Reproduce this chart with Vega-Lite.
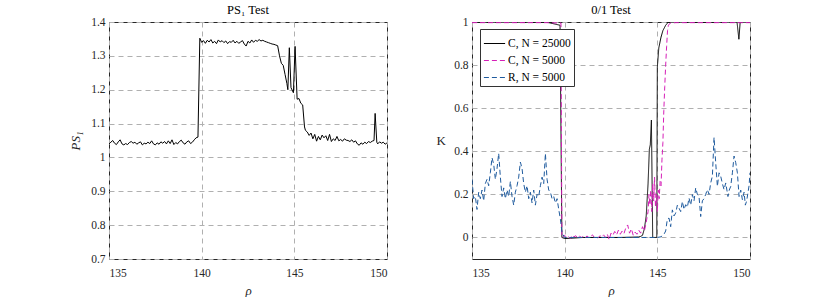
{
  "$schema": "https://vega.github.io/schema/vega-lite/v6.json",
  "background": "white",
  "padding": {"left": 69, "top": 3, "right": 5, "bottom": 0},
  "spacing": 47,
  "config": {
    "font": "Liberation Serif",
    "view": {"stroke": "#262626", "strokeWidth": 1},
    "axis": {
      "domain": false,
      "ticks": false,
      "grid": true,
      "gridColor": "#b0b0b0",
      "gridDash": [5, 4],
      "gridWidth": 1,
      "labelFont": "Liberation Serif",
      "labelFontSize": 11.5,
      "labelColor": "#262626",
      "titleFont": "Liberation Serif",
      "titleFontWeight": "normal",
      "titleColor": "#262626",
      "titleFontSize": 13
    },
    "title": {"font": "Liberation Serif", "fontSize": 12.5, "fontWeight": "normal", "color": "#000000", "offset": 0},
    "legend": {"labelFont": "Liberation Serif"}
  },
  "hconcat": [
    {
      "title": {"text": "PS₁ Test", "fontWeight": "normal", "font": "Liberation Serif", "fontSize": 12.5, "offset": 0},
      "width": 278,
      "height": 237,
      "data": {"values": [
        {"rho":135.0,"v":1.040},{"rho":135.1,"v":1.045},{"rho":135.2,"v":1.050},{"rho":135.3,"v":1.042},{"rho":135.4,"v":1.038},
        {"rho":135.5,"v":1.046},{"rho":135.6,"v":1.052},{"rho":135.7,"v":1.040},{"rho":135.8,"v":1.037},{"rho":135.9,"v":1.041},
        {"rho":136.0,"v":1.038},{"rho":136.1,"v":1.044},{"rho":136.2,"v":1.047},{"rho":136.3,"v":1.042},{"rho":136.4,"v":1.045},
        {"rho":136.5,"v":1.039},{"rho":136.6,"v":1.043},{"rho":136.7,"v":1.046},{"rho":136.8,"v":1.037},{"rho":136.9,"v":1.042},
        {"rho":137.0,"v":1.040},{"rho":137.1,"v":1.045},{"rho":137.2,"v":1.041},{"rho":137.3,"v":1.049},{"rho":137.4,"v":1.040},
        {"rho":137.5,"v":1.037},{"rho":137.6,"v":1.043},{"rho":137.7,"v":1.039},{"rho":137.8,"v":1.046},{"rho":137.9,"v":1.042},
        {"rho":138.0,"v":1.047},{"rho":138.1,"v":1.040},{"rho":138.2,"v":1.049},{"rho":138.3,"v":1.041},{"rho":138.4,"v":1.052},
        {"rho":138.5,"v":1.038},{"rho":138.6,"v":1.044},{"rho":138.7,"v":1.040},{"rho":138.8,"v":1.047},{"rho":138.9,"v":1.051},
        {"rho":139.0,"v":1.043},{"rho":139.1,"v":1.039},{"rho":139.2,"v":1.046},{"rho":139.3,"v":1.049},{"rho":139.4,"v":1.041},
        {"rho":139.5,"v":1.045},{"rho":139.6,"v":1.052},{"rho":139.7,"v":1.058},{"rho":139.8,"v":1.060},{"rho":139.9,"v":1.352},
        {"rho":140.0,"v":1.340},{"rho":140.1,"v":1.345},{"rho":140.2,"v":1.337},{"rho":140.3,"v":1.346},{"rho":140.4,"v":1.341},
        {"rho":140.5,"v":1.348},{"rho":140.6,"v":1.338},{"rho":140.7,"v":1.343},{"rho":140.8,"v":1.336},{"rho":140.9,"v":1.347},
        {"rho":141.0,"v":1.341},{"rho":141.1,"v":1.345},{"rho":141.2,"v":1.339},{"rho":141.3,"v":1.344},{"rho":141.4,"v":1.336},
        {"rho":141.5,"v":1.342},{"rho":141.6,"v":1.340},{"rho":141.7,"v":1.346},{"rho":141.8,"v":1.338},{"rho":141.9,"v":1.343},
        {"rho":142.0,"v":1.337},{"rho":142.1,"v":1.341},{"rho":142.2,"v":1.345},{"rho":142.3,"v":1.335},{"rho":142.4,"v":1.329},
        {"rho":142.5,"v":1.343},{"rho":142.6,"v":1.338},{"rho":142.7,"v":1.347},{"rho":142.8,"v":1.340},{"rho":142.9,"v":1.346},
        {"rho":143.0,"v":1.343},{"rho":143.1,"v":1.348},{"rho":143.2,"v":1.344},{"rho":143.3,"v":1.346},{"rho":143.4,"v":1.343},
        {"rho":143.5,"v":1.341},{"rho":143.6,"v":1.339},{"rho":143.7,"v":1.337},{"rho":143.8,"v":1.335},{"rho":143.9,"v":1.334},
        {"rho":144.0,"v":1.332},{"rho":144.1,"v":1.330},{"rho":144.2,"v":1.300},{"rho":144.3,"v":1.278},{"rho":144.4,"v":1.272},
        {"rho":144.5,"v":1.245},{"rho":144.6,"v":1.218},{"rho":144.65,"v":1.200},{"rho":144.73,"v":1.324},{"rho":144.82,"v":1.206},
        {"rho":144.95,"v":1.191},{"rho":145.04,"v":1.328},{"rho":145.15,"v":1.172},{"rho":145.25,"v":1.174},{"rho":145.35,"v":1.160},
        {"rho":145.45,"v":1.155},{"rho":145.55,"v":1.090},{"rho":145.6,"v":1.080},{"rho":145.7,"v":1.075},{"rho":145.8,"v":1.065},
        {"rho":145.9,"v":1.072},{"rho":146.0,"v":1.055},{"rho":146.1,"v":1.068},{"rho":146.2,"v":1.048},{"rho":146.3,"v":1.062},
        {"rho":146.4,"v":1.052},{"rho":146.5,"v":1.066},{"rho":146.6,"v":1.058},{"rho":146.7,"v":1.064},{"rho":146.8,"v":1.050},
        {"rho":146.9,"v":1.068},{"rho":147.0,"v":1.047},{"rho":147.1,"v":1.055},{"rho":147.2,"v":1.050},{"rho":147.3,"v":1.062},
        {"rho":147.4,"v":1.049},{"rho":147.5,"v":1.053},{"rho":147.6,"v":1.048},{"rho":147.7,"v":1.055},{"rho":147.8,"v":1.051},
        {"rho":147.9,"v":1.050},{"rho":148.0,"v":1.047},{"rho":148.1,"v":1.052},{"rho":148.2,"v":1.045},{"rho":148.3,"v":1.049},
        {"rho":148.4,"v":1.040},{"rho":148.5,"v":1.036},{"rho":148.6,"v":1.043},{"rho":148.7,"v":1.039},{"rho":148.8,"v":1.045},
        {"rho":148.9,"v":1.041},{"rho":149.0,"v":1.047},{"rho":149.1,"v":1.044},{"rho":149.2,"v":1.048},{"rho":149.3,"v":1.050},
        {"rho":149.36,"v":1.130},{"rho":149.45,"v":1.045},{"rho":149.5,"v":1.040},{"rho":149.6,"v":1.046},{"rho":149.7,"v":1.042},
        {"rho":149.8,"v":1.045},{"rho":149.9,"v":1.039},{"rho":150.0,"v":1.043}
      ]},
      "mark": {"type": "line", "color": "#000000", "strokeWidth": 1, "clip": true},
      "encoding": {
        "x": {"field": "rho", "type": "quantitative", "scale": {"domain": [135, 150], "nice": false, "zero": false},
              "axis": {"values": [135, 140, 145, 150], "title": "ρ", "titleFontStyle": "italic", "labelPadding": 8, "titlePadding": 6}},
        "y": {"field": "v", "type": "quantitative", "scale": {"domain": [0.7, 1.4], "nice": false, "zero": false},
              "axis": {"values": [0.7, 0.8, 0.9, 1.0, 1.1, 1.2, 1.3, 1.4], "format": ".1~f", "title": "PS₁", "titleFontStyle": "italic", "labelPadding": 4, "titlePadding": 8}}
      }
    },
    {
      "title": {"text": "0/1 Test", "fontWeight": "normal", "font": "Liberation Serif", "fontSize": 12.5, "offset": 0},
      "width": 278,
      "height": 237,
      "data": {"values": [
        {"s":"C, N = 25000","rho":135.0,"v":1.0},{"s":"C, N = 25000","rho":137.0,"v":1.0},{"s":"C, N = 25000","rho":139.0,"v":1.0},
        {"s":"C, N = 25000","rho":139.75,"v":0.985},{"s":"C, N = 25000","rho":139.85,"v":0.0},{"s":"C, N = 25000","rho":140.0,"v":-0.005},
        {"s":"C, N = 25000","rho":141.0,"v":0.0},{"s":"C, N = 25000","rho":142.0,"v":0.0},{"s":"C, N = 25000","rho":143.0,"v":0.0},
        {"s":"C, N = 25000","rho":144.0,"v":0.002},{"s":"C, N = 25000","rho":144.1,"v":0.005},{"s":"C, N = 25000","rho":144.2,"v":0.01},
        {"s":"C, N = 25000","rho":144.3,"v":0.04},{"s":"C, N = 25000","rho":144.4,"v":0.1},{"s":"C, N = 25000","rho":144.5,"v":0.25},
        {"s":"C, N = 25000","rho":144.57,"v":0.41},{"s":"C, N = 25000","rho":144.62,"v":0.43},{"s":"C, N = 25000","rho":144.68,"v":0.545},
        {"s":"C, N = 25000","rho":144.75,"v":0.0},{"s":"C, N = 25000","rho":144.97,"v":0.0},{"s":"C, N = 25000","rho":145.0,"v":0.79},
        {"s":"C, N = 25000","rho":145.08,"v":0.88},{"s":"C, N = 25000","rho":145.2,"v":0.93},{"s":"C, N = 25000","rho":145.3,"v":0.96},
        {"s":"C, N = 25000","rho":145.45,"v":0.985},{"s":"C, N = 25000","rho":145.6,"v":1.0},{"s":"C, N = 25000","rho":147.0,"v":1.0},
        {"s":"C, N = 25000","rho":149.3,"v":1.0},{"s":"C, N = 25000","rho":149.4,"v":0.92},{"s":"C, N = 25000","rho":149.47,"v":1.0},
        {"s":"C, N = 25000","rho":150.0,"v":1.0},

        {"s":"C, N = 5000","rho":135.0,"v":0.997},{"s":"C, N = 5000","rho":137.0,"v":0.997},{"s":"C, N = 5000","rho":139.0,"v":0.997},
        {"s":"C, N = 5000","rho":139.8,"v":0.995},{"s":"C, N = 5000","rho":139.85,"v":0.0},{"s":"C, N = 5000","rho":140.0,"v":0.01},
        {"s":"C, N = 5000","rho":140.1,"v":0.0},{"s":"C, N = 5000","rho":140.2,"v":0.005},{"s":"C, N = 5000","rho":140.3,"v":-0.005},
        {"s":"C, N = 5000","rho":140.4,"v":0.01},{"s":"C, N = 5000","rho":140.5,"v":0.003},{"s":"C, N = 5000","rho":140.6,"v":0.008},
        {"s":"C, N = 5000","rho":140.7,"v":-0.003},{"s":"C, N = 5000","rho":140.8,"v":0.006},{"s":"C, N = 5000","rho":140.9,"v":0.0},
        {"s":"C, N = 5000","rho":141.0,"v":0.004},{"s":"C, N = 5000","rho":141.1,"v":-0.004},{"s":"C, N = 5000","rho":141.2,"v":0.007},
        {"s":"C, N = 5000","rho":141.3,"v":0.0},{"s":"C, N = 5000","rho":141.4,"v":0.005},{"s":"C, N = 5000","rho":141.5,"v":0.012},
        {"s":"C, N = 5000","rho":141.6,"v":0.0},{"s":"C, N = 5000","rho":141.7,"v":0.004},{"s":"C, N = 5000","rho":141.8,"v":-0.003},
        {"s":"C, N = 5000","rho":141.9,"v":0.008},{"s":"C, N = 5000","rho":142.0,"v":0.003},{"s":"C, N = 5000","rho":142.1,"v":0.012},
        {"s":"C, N = 5000","rho":142.2,"v":0.0},{"s":"C, N = 5000","rho":142.3,"v":0.015},{"s":"C, N = 5000","rho":142.4,"v":-0.01},
        {"s":"C, N = 5000","rho":142.5,"v":0.02},{"s":"C, N = 5000","rho":142.6,"v":0.01},{"s":"C, N = 5000","rho":142.7,"v":0.028},
        {"s":"C, N = 5000","rho":142.8,"v":0.012},{"s":"C, N = 5000","rho":142.9,"v":0.034},{"s":"C, N = 5000","rho":143.0,"v":0.015},
        {"s":"C, N = 5000","rho":143.1,"v":0.03},{"s":"C, N = 5000","rho":143.2,"v":0.018},{"s":"C, N = 5000","rho":143.3,"v":0.045},
        {"s":"C, N = 5000","rho":143.4,"v":0.058},{"s":"C, N = 5000","rho":143.5,"v":0.02},{"s":"C, N = 5000","rho":143.6,"v":0.04},
        {"s":"C, N = 5000","rho":143.7,"v":0.01},{"s":"C, N = 5000","rho":143.8,"v":0.025},{"s":"C, N = 5000","rho":143.9,"v":0.015},
        {"s":"C, N = 5000","rho":144.0,"v":0.034},{"s":"C, N = 5000","rho":144.1,"v":0.02},{"s":"C, N = 5000","rho":144.2,"v":0.05},
        {"s":"C, N = 5000","rho":144.3,"v":0.03},{"s":"C, N = 5000","rho":144.4,"v":0.07},{"s":"C, N = 5000","rho":144.45,"v":0.096},
        {"s":"C, N = 5000","rho":144.5,"v":0.12},{"s":"C, N = 5000","rho":144.55,"v":0.2},{"s":"C, N = 5000","rho":144.6,"v":0.15},
        {"s":"C, N = 5000","rho":144.65,"v":0.22},{"s":"C, N = 5000","rho":144.7,"v":0.12},{"s":"C, N = 5000","rho":144.75,"v":0.25},
        {"s":"C, N = 5000","rho":144.8,"v":0.17},{"s":"C, N = 5000","rho":144.85,"v":0.28},{"s":"C, N = 5000","rho":144.9,"v":0.14},
        {"s":"C, N = 5000","rho":144.95,"v":0.2},{"s":"C, N = 5000","rho":145.0,"v":0.12},{"s":"C, N = 5000","rho":145.05,"v":0.22},
        {"s":"C, N = 5000","rho":145.1,"v":0.18},{"s":"C, N = 5000","rho":145.15,"v":0.26},{"s":"C, N = 5000","rho":145.2,"v":0.24},
        {"s":"C, N = 5000","rho":145.25,"v":0.36},{"s":"C, N = 5000","rho":145.3,"v":0.44},{"s":"C, N = 5000","rho":145.35,"v":0.59},
        {"s":"C, N = 5000","rho":145.4,"v":0.7},{"s":"C, N = 5000","rho":145.45,"v":0.8},{"s":"C, N = 5000","rho":145.5,"v":0.885},
        {"s":"C, N = 5000","rho":145.55,"v":0.96},{"s":"C, N = 5000","rho":145.6,"v":0.985},{"s":"C, N = 5000","rho":145.7,"v":0.995},
        {"s":"C, N = 5000","rho":146.0,"v":0.997},{"s":"C, N = 5000","rho":148.0,"v":0.997},{"s":"C, N = 5000","rho":150.0,"v":0.997},

        {"s":"R, N = 5000","rho":135.0,"v":0.27},{"s":"R, N = 5000","rho":135.09,"v":0.18},{"s":"R, N = 5000","rho":135.18,"v":0.19},
        {"s":"R, N = 5000","rho":135.27,"v":0.13},{"s":"R, N = 5000","rho":135.36,"v":0.21},{"s":"R, N = 5000","rho":135.45,"v":0.18},
        {"s":"R, N = 5000","rho":135.54,"v":0.22},{"s":"R, N = 5000","rho":135.63,"v":0.17},{"s":"R, N = 5000","rho":135.72,"v":0.25},
        {"s":"R, N = 5000","rho":135.81,"v":0.27},{"s":"R, N = 5000","rho":135.9,"v":0.24},{"s":"R, N = 5000","rho":135.99,"v":0.30},
        {"s":"R, N = 5000","rho":136.08,"v":0.37},{"s":"R, N = 5000","rho":136.17,"v":0.34},{"s":"R, N = 5000","rho":136.26,"v":0.27},
        {"s":"R, N = 5000","rho":136.35,"v":0.32},{"s":"R, N = 5000","rho":136.44,"v":0.39},{"s":"R, N = 5000","rho":136.53,"v":0.28},
        {"s":"R, N = 5000","rho":136.62,"v":0.19},{"s":"R, N = 5000","rho":136.71,"v":0.23},{"s":"R, N = 5000","rho":136.8,"v":0.18},
        {"s":"R, N = 5000","rho":136.89,"v":0.22},{"s":"R, N = 5000","rho":136.98,"v":0.19},{"s":"R, N = 5000","rho":137.07,"v":0.26},
        {"s":"R, N = 5000","rho":137.16,"v":0.19},{"s":"R, N = 5000","rho":137.25,"v":0.15},{"s":"R, N = 5000","rho":137.34,"v":0.21},
        {"s":"R, N = 5000","rho":137.43,"v":0.24},{"s":"R, N = 5000","rho":137.52,"v":0.28},{"s":"R, N = 5000","rho":137.61,"v":0.35},
        {"s":"R, N = 5000","rho":137.7,"v":0.32},{"s":"R, N = 5000","rho":137.79,"v":0.25},{"s":"R, N = 5000","rho":137.88,"v":0.21},
        {"s":"R, N = 5000","rho":137.97,"v":0.24},{"s":"R, N = 5000","rho":138.06,"v":0.18},{"s":"R, N = 5000","rho":138.15,"v":0.21},
        {"s":"R, N = 5000","rho":138.24,"v":0.16},{"s":"R, N = 5000","rho":138.33,"v":0.22},{"s":"R, N = 5000","rho":138.42,"v":0.15},
        {"s":"R, N = 5000","rho":138.51,"v":0.20},{"s":"R, N = 5000","rho":138.6,"v":0.19},{"s":"R, N = 5000","rho":138.69,"v":0.24},
        {"s":"R, N = 5000","rho":138.78,"v":0.28},{"s":"R, N = 5000","rho":138.87,"v":0.25},{"s":"R, N = 5000","rho":138.96,"v":0.39},
        {"s":"R, N = 5000","rho":139.05,"v":0.27},{"s":"R, N = 5000","rho":139.14,"v":0.22},{"s":"R, N = 5000","rho":139.23,"v":0.21},
        {"s":"R, N = 5000","rho":139.32,"v":0.18},{"s":"R, N = 5000","rho":139.41,"v":0.19},{"s":"R, N = 5000","rho":139.5,"v":0.16},
        {"s":"R, N = 5000","rho":139.59,"v":0.18},{"s":"R, N = 5000","rho":139.68,"v":0.13},{"s":"R, N = 5000","rho":139.77,"v":0.085},
        {"s":"R, N = 5000","rho":139.86,"v":0.02},{"s":"R, N = 5000","rho":140.0,"v":0.0},{"s":"R, N = 5000","rho":141.0,"v":0.0},
        {"s":"R, N = 5000","rho":142.0,"v":0.0},{"s":"R, N = 5000","rho":143.0,"v":0.0},{"s":"R, N = 5000","rho":144.0,"v":0.0},
        {"s":"R, N = 5000","rho":145.0,"v":0.0},{"s":"R, N = 5000","rho":145.2,"v":0.003},{"s":"R, N = 5000","rho":145.36,"v":0.015},
        {"s":"R, N = 5000","rho":145.45,"v":0.03},{"s":"R, N = 5000","rho":145.54,"v":0.085},{"s":"R, N = 5000","rho":145.63,"v":0.09},
        {"s":"R, N = 5000","rho":145.72,"v":0.05},{"s":"R, N = 5000","rho":145.81,"v":0.128},{"s":"R, N = 5000","rho":145.9,"v":0.1},
        {"s":"R, N = 5000","rho":145.99,"v":0.113},{"s":"R, N = 5000","rho":146.08,"v":0.15},{"s":"R, N = 5000","rho":146.17,"v":0.136},
        {"s":"R, N = 5000","rho":146.26,"v":0.12},{"s":"R, N = 5000","rho":146.35,"v":0.167},{"s":"R, N = 5000","rho":146.44,"v":0.13},
        {"s":"R, N = 5000","rho":146.53,"v":0.152},{"s":"R, N = 5000","rho":146.62,"v":0.14},{"s":"R, N = 5000","rho":146.71,"v":0.183},
        {"s":"R, N = 5000","rho":146.8,"v":0.15},{"s":"R, N = 5000","rho":146.89,"v":0.199},{"s":"R, N = 5000","rho":146.98,"v":0.17},
        {"s":"R, N = 5000","rho":147.07,"v":0.23},{"s":"R, N = 5000","rho":147.16,"v":0.2},{"s":"R, N = 5000","rho":147.25,"v":0.19},
        {"s":"R, N = 5000","rho":147.34,"v":0.097},{"s":"R, N = 5000","rho":147.43,"v":0.17},{"s":"R, N = 5000","rho":147.52,"v":0.18},
        {"s":"R, N = 5000","rho":147.61,"v":0.2},{"s":"R, N = 5000","rho":147.7,"v":0.222},{"s":"R, N = 5000","rho":147.79,"v":0.2},
        {"s":"R, N = 5000","rho":147.88,"v":0.253},{"s":"R, N = 5000","rho":147.97,"v":0.285},{"s":"R, N = 5000","rho":148.06,"v":0.464},
        {"s":"R, N = 5000","rho":148.15,"v":0.347},{"s":"R, N = 5000","rho":148.24,"v":0.237},{"s":"R, N = 5000","rho":148.33,"v":0.3},
        {"s":"R, N = 5000","rho":148.42,"v":0.284},{"s":"R, N = 5000","rho":148.51,"v":0.25},{"s":"R, N = 5000","rho":148.6,"v":0.222},
        {"s":"R, N = 5000","rho":148.69,"v":0.253},{"s":"R, N = 5000","rho":148.81,"v":0.19},{"s":"R, N = 5000","rho":148.88,"v":0.22},
        {"s":"R, N = 5000","rho":148.96,"v":0.237},{"s":"R, N = 5000","rho":149.05,"v":0.3},{"s":"R, N = 5000","rho":149.14,"v":0.378},
        {"s":"R, N = 5000","rho":149.23,"v":0.347},{"s":"R, N = 5000","rho":149.32,"v":0.3},{"s":"R, N = 5000","rho":149.41,"v":0.19},
        {"s":"R, N = 5000","rho":149.5,"v":0.22},{"s":"R, N = 5000","rho":149.59,"v":0.175},{"s":"R, N = 5000","rho":149.68,"v":0.21},
        {"s":"R, N = 5000","rho":149.75,"v":0.15},{"s":"R, N = 5000","rho":149.82,"v":0.17},{"s":"R, N = 5000","rho":149.95,"v":0.24},
        {"s":"R, N = 5000","rho":150.0,"v":0.3}
      ]},
      "mark": {"type": "line", "strokeWidth": 1, "clip": true},
      "encoding": {
        "x": {"field": "rho", "type": "quantitative", "scale": {"domain": [135, 150], "nice": false, "zero": false},
              "axis": {"values": [135, 140, 145, 150], "title": "ρ", "titleFontStyle": "italic", "labelPadding": 8, "titlePadding": 6}},
        "y": {"field": "v", "type": "quantitative", "scale": {"domain": [-0.1, 1], "nice": false, "zero": false},
              "axis": {"values": [0, 0.2, 0.4, 0.6, 0.8, 1], "format": ".1~f", "title": "K", "titleAngle": 0, "titleBaseline": "middle", "labelPadding": 4, "titlePadding": 13}},
        "color": {"field": "s", "type": "nominal",
                  "scale": {"domain": ["C, N = 25000", "C, N = 5000", "R, N = 5000"], "range": ["#000000", "#d61fb8", "#1f5b9e"]},
                  "legend": {"title": null, "orient": "none", "legendX": 371, "legendY": 7, "symbolType": "stroke", "symbolSize": 450, "symbolStrokeWidth": 1.2,
                             "labelFontSize": 11.5, "labelColor": "#000000", "strokeColor": "#333333", "fillColor": "white", "padding": 3, "rowPadding": -10, "symbolOffset": 0, "labelOffset": 2}},
        "strokeDash": {"field": "s", "type": "nominal",
                  "scale": {"domain": ["C, N = 25000", "C, N = 5000", "R, N = 5000"], "range": [[1, 0], [5, 3], [5, 3]]},
                  "legend": {"title": null, "orient": "none", "legendX": 371, "legendY": 7, "symbolType": "stroke", "symbolSize": 450, "symbolStrokeWidth": 1.2,
                             "labelFontSize": 11.5, "labelColor": "#000000", "strokeColor": "#333333", "fillColor": "white", "padding": 3, "rowPadding": -10, "symbolOffset": 0, "labelOffset": 2}}
      }
    }
  ]
}
